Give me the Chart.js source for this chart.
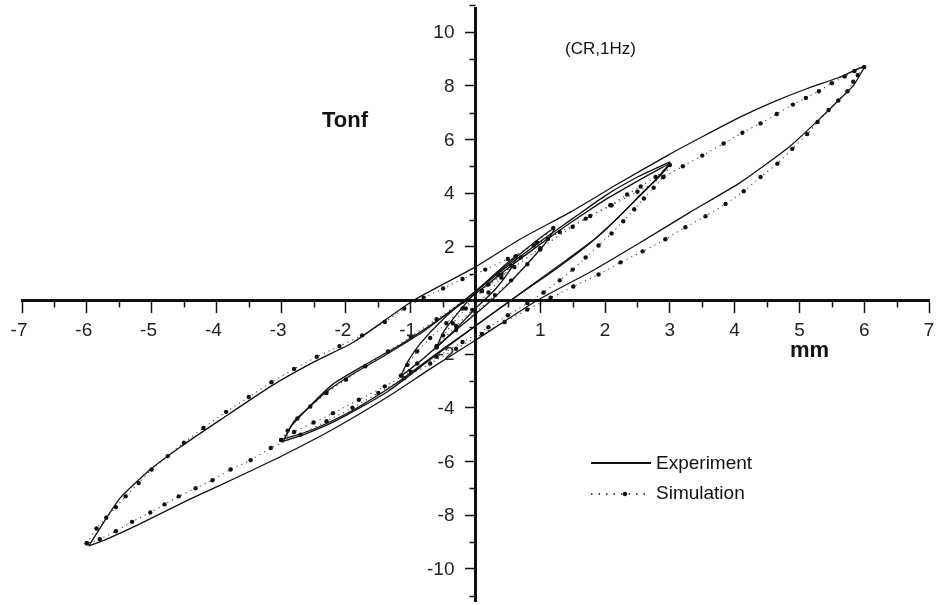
<!DOCTYPE html>
<html>
<head>
<meta charset="utf-8">
<script src="https://cdn.jsdelivr.net/npm/chart.js@4.4.1/dist/chart.umd.min.js"></script>
<style>
  html, body { margin: 0; padding: 0; background: #fff; }
  #wrap { width: 941px; height: 605px; }
</style>
</head>
<body>
<div id="wrap"><canvas id="loops"></canvas></div>
<script>
// DATA ------------------------------------------------------

const xTicks = [-7, -6, -5, -4, -3, -2, -1, 0, 1, 2, 3, 4, 5, 6, 7];
const yTicks = [-10, -8, -6, -4, -2, 0, 2, 4, 6, 8, 10];

// experiment loops, [mm, Tonf]
const expLoop6 = [
  [-5.97, -9.15], [-5.8, -8.5], [-5.48, -7.35], [-5.02, -6.3], [-4.55, -5.45], [-3.94, -4.45],
  [-3.16, -3.2], [-2.5, -2.3], [-1.88, -1.55], [-0.96, 0], [0, 1.25], [0.7, 2.3], [1.47, 3.3],
  [2.2, 4.35], [2.96, 5.4], [3.5, 6.1], [4.09, 6.84], [4.6, 7.4], [5.12, 7.9], [5.6, 8.3], [6.0, 8.72],
  [5.92, 8.35], [5.83, 8.0], [5.6, 7.45], [5.37, 6.9], [4.86, 5.76], [4.09, 4.4], [3.32, 3.3],
  [2.55, 2.17], [1.8, 1.1], [0.95, 0], [0, -1.48], [-0.7, -2.55], [-1.36, -3.6], [-2.2, -4.8],
  [-2.96, -5.76], [-3.67, -6.58], [-4.44, -7.44], [-5.22, -8.37], [-5.7, -8.9], [-5.97, -9.15]
];
const expLoop3 = [
  [-2.97, -5.25], [-2.85, -4.7], [-2.7, -4.3], [-2.44, -3.65], [-2.19, -3.1], [-1.67, -2.35],
  [-1.16, -1.65], [-0.65, -0.85], [0, 0.25], [0.5, 1.2], [1.0, 2.1], [1.5, 2.95], [2.0, 3.75],
  [2.5, 4.45], [2.8, 4.85], [3.0, 5.1],
  [2.85, 4.65], [2.6, 4.05], [2.35, 3.45], [2.05, 2.75], [1.7, 2.0], [1.2, 1.1], [0.6, 0.1],
  [0, -0.95], [-0.7, -2.2], [-1.36, -3.4], [-2.13, -4.45], [-2.6, -4.95], [-2.97, -5.25]
];
const expLoop3b = [
  [-2.95, -5.15], [-2.8, -4.5], [-2.6, -4.05], [-2.3, -3.4], [-1.9, -2.75], [-1.4, -2.05],
  [-0.8, -1.15], [-0.2, -0.05], [0.4, 1.1], [1.0, 2.2], [1.5, 3.05], [2.0, 3.9], [2.5, 4.6],
  [2.85, 5.0], [3.0, 5.15],
  [2.8, 4.55], [2.55, 3.95], [2.25, 3.2], [1.9, 2.4], [1.4, 1.5], [0.8, 0.45], [0.2, -0.6],
  [-0.5, -1.8], [-1.2, -3.05], [-1.9, -4.1], [-2.5, -4.8], [-2.8, -5.05], [-2.95, -5.15]
];
const expLoop1 = [
  [-1.16, -2.85], [-1.05, -2.3], [-0.85, -1.6], [-0.5, -0.7], [0, 0.35], [0.5, 1.35], [0.9, 2.15], [1.22, 2.7],
  [1.1, 2.2], [0.85, 1.5], [0.5, 0.6], [0.15, -0.2], [-0.3, -1.1], [-0.8, -2.15], [-1.16, -2.85]
];
const expLoopHalf = [
  [-0.6, -1.75], [-0.5, -1.2], [-0.25, -0.4], [0, 0.3], [0.35, 1.1], [0.65, 1.7],
  [0.55, 1.2], [0.3, 0.4], [0, -0.3], [-0.3, -1.05], [-0.6, -1.75]
];

// simulation loops, [mm, Tonf]
const simLoop6 = [
  [-6, -9.05], [-5.85, -8.5], [-5.7, -8.1], [-5.55, -7.7], [-5.4, -7.3], [-5.2, -6.8], [-5.0, -6.3],
  [-4.75, -5.8], [-4.5, -5.3], [-4.2, -4.75], [-3.85, -4.15], [-3.5, -3.6], [-3.15, -3.05],
  [-2.8, -2.55], [-2.45, -2.1], [-2.1, -1.7], [-1.75, -1.3], [-1.4, -0.8], [-1.1, -0.3], [-0.8, 0.1],
  [-0.5, 0.45], [-0.2, 0.8], [0.15, 1.15], [0.5, 1.55], [0.9, 2.05], [1.3, 2.55], [1.7, 3.05],
  [2.1, 3.55], [2.5, 4.05], [2.9, 4.6], [3.2, 5.0], [3.5, 5.4], [3.83, 5.85], [4.12, 6.25], [4.4, 6.6],
  [4.65, 6.95], [4.9, 7.3], [5.1, 7.55], [5.3, 7.8], [5.5, 8.1], [5.7, 8.35], [5.85, 8.55], [6, 8.7],
  [5.9, 8.4], [5.83, 8.15], [5.74, 7.8], [5.6, 7.45], [5.45, 7.1], [5.28, 6.65], [5.12, 6.2],
  [4.89, 5.65], [4.66, 5.1], [4.4, 4.6], [4.14, 4.07], [3.86, 3.6], [3.55, 3.14], [3.24, 2.73],
  [2.93, 2.28], [2.58, 1.83], [2.24, 1.42], [1.9, 0.97], [1.51, 0.52], [1.16, 0.1], [0.8, -0.34],
  [0.45, -0.8], [0.1, -1.25], [-0.3, -1.8], [-0.7, -2.35], [-1.1, -2.9], [-1.5, -3.45], [-1.9, -4.0],
  [-2.3, -4.5], [-2.7, -5.0], [-3.16, -5.5], [-3.47, -5.95], [-3.78, -6.3], [-4.06, -6.7],
  [-4.32, -7.0], [-4.58, -7.3], [-4.8, -7.6], [-5.02, -7.9], [-5.3, -8.25], [-5.55, -8.6],
  [-5.8, -8.9], [-6, -9.05]
];
const simLoop3 = [
  [-3.0, -5.2], [-2.9, -4.85], [-2.75, -4.4], [-2.55, -3.95], [-2.3, -3.45], [-2.0, -2.95],
  [-1.7, -2.45], [-1.35, -1.9], [-1.0, -1.35], [-0.6, -0.7], [-0.2, -0.05], [0.2, 0.6], [0.6, 1.25],
  [1.0, 1.95], [1.5, 2.75], [1.77, 3.15], [2.08, 3.55], [2.34, 3.95], [2.55, 4.25], [2.78, 4.6], [3.0, 5.05],
  [2.9, 4.6], [2.75, 4.2], [2.6, 3.8], [2.45, 3.4], [2.28, 2.95], [2.1, 2.5], [1.9, 2.05], [1.7, 1.6],
  [1.5, 1.15], [1.3, 0.75], [1.05, 0.3], [0.8, -0.1], [0.5, -0.55], [0.2, -1.0], [-0.2, -1.55],
  [-0.6, -2.1], [-1.0, -2.65], [-1.4, -3.2], [-1.8, -3.7], [-2.2, -4.2], [-2.5, -4.55], [-2.8, -4.9],
  [-3.0, -5.2]
];
const simLoop1 = [
  [-1.15, -2.8], [-1.05, -2.4], [-0.9, -1.9], [-0.7, -1.4], [-0.45, -0.85], [-0.2, -0.3], [0.1, 0.35],
  [0.4, 0.95], [0.7, 1.6], [0.95, 2.15], [1.2, 2.7],
  [1.12, 2.3], [1.0, 1.9], [0.8, 1.35], [0.55, 0.75], [0.3, 0.2], [0.0, -0.45], [-0.3, -1.1],
  [-0.6, -1.75], [-0.9, -2.35], [-1.15, -2.8]
];
const simLoopHalf = [
  [-0.6, -1.7], [-0.5, -1.3], [-0.35, -0.85], [-0.15, -0.3], [0.1, 0.35], [0.35, 0.95], [0.62, 1.65],
  [0.55, 1.3], [0.4, 0.85], [0.2, 0.3], [-0.05, -0.35], [-0.3, -0.95], [-0.6, -1.7]
];

// CHART ------------------------------------------------------

const toPoints = arr => arr.map(p => ({ x: p[0], y: p[1] }));

const expStyle = {
  showLine: true,
  borderColor: '#111',
  borderWidth: 1.3,
  pointRadius: 0,
  tension: 0.2,
  fill: false
};
const simStyle = {
  showLine: true,
  borderColor: '#444',
  borderWidth: 1.1,
  borderDash: [1.2, 4],
  pointRadius: 2.2,
  pointBackgroundColor: '#111',
  pointBorderColor: '#111',
  pointBorderWidth: 0,
  tension: 0.2,
  fill: false
};

const datasets = [
  Object.assign({ label: 'Experiment', data: toPoints(expLoop6) }, expStyle),
  Object.assign({ label: 'Experiment 3', data: toPoints(expLoop3) }, expStyle),
  Object.assign({ label: 'Experiment 3b', data: toPoints(expLoop3b) }, expStyle),
  Object.assign({ label: 'Experiment 1', data: toPoints(expLoop1) }, expStyle),
  Object.assign({ label: 'Experiment 0.5', data: toPoints(expLoopHalf) }, expStyle),
  Object.assign({ label: 'Simulation', data: toPoints(simLoop6) }, simStyle),
  Object.assign({ label: 'Simulation 3', data: toPoints(simLoop3) }, simStyle),
  Object.assign({ label: 'Simulation 1', data: toPoints(simLoop1) }, simStyle),
  Object.assign({ label: 'Simulation 0.5', data: toPoints(simLoopHalf) }, simStyle)
];

const FONT = '"Liberation Sans", Arial, sans-serif';

// tick labels, minor ticks, axis titles and the little legend
const extras = {
  id: 'extras',
  afterDraw(chart) {
    const ctx = chart.ctx;
    const xs = chart.scales.x, ys = chart.scales.y;
    const yAxisPx = xs.getPixelForValue(0);
    const xAxisPx = ys.getPixelForValue(0);
    ctx.save();
    ctx.strokeStyle = '#111';
    ctx.lineWidth = 1.5;
    ctx.beginPath();
    for (let v = -6.5; v <= 6.5; v += 1) {
      const px = Math.round(xs.getPixelForValue(v)) + 0.5;
      ctx.moveTo(px, xAxisPx);
      ctx.lineTo(px, xAxisPx + 7);
    }
    for (let v = -11; v <= 11; v += 2) {
      const py = Math.round(ys.getPixelForValue(v)) + 0.5;
      ctx.moveTo(yAxisPx, py);
      ctx.lineTo(yAxisPx - 6, py);
    }
    ctx.stroke();

    ctx.fillStyle = '#222';
    ctx.font = '19px ' + FONT;
    ctx.textBaseline = 'middle';
    ctx.textAlign = 'center';
    xTicks.forEach(v => {
      if (v === 0) return;
      ctx.fillText(String(v), xs.getPixelForValue(v) - (v < 0 ? 3 : 0), xAxisPx + 30);
    });
    ctx.textAlign = 'right';
    yTicks.forEach(v => {
      if (v === 0) return;
      ctx.fillText(String(v), yAxisPx - 21, ys.getPixelForValue(v) + 1);
    });

    ctx.fillStyle = '#111';
    ctx.textAlign = 'left';
    ctx.font = 'bold 22px ' + FONT;
    ctx.fillText('Tonf', 322, 121);
    ctx.fillText('mm', 790, 351);
    ctx.font = '17px ' + FONT;
    ctx.fillText('(CR,1Hz)', 565, 49);

    // legend
    ctx.font = '19px ' + FONT;
    ctx.fillText('Experiment', 656, 464);
    ctx.fillText('Simulation', 656, 494);
    ctx.lineWidth = 2;
    ctx.beginPath();
    ctx.moveTo(591, 463);
    ctx.lineTo(651, 463);
    ctx.stroke();
    ctx.lineWidth = 1.3;
    ctx.setLineDash([1.5, 6]);
    ctx.beginPath();
    ctx.moveTo(591, 494);
    ctx.lineTo(651, 494);
    ctx.stroke();
    ctx.setLineDash([]);
    ctx.beginPath();
    ctx.arc(625, 494, 2.2, 0, Math.PI * 2);
    ctx.fill();
    ctx.restore();
  }
};

new Chart(document.getElementById('loops'), {
  type: 'scatter',
  data: { datasets: datasets },
  options: {
    responsive: true,
    maintainAspectRatio: false,
    animation: false,
    layout: { padding: { left: 22, right: 12, top: 8, bottom: 2 } },
    scales: {
      x: {
        type: 'linear',
        position: { y: 0 },
        min: -7,
        max: 7,
        afterBuildTicks: scale => { scale.ticks = xTicks.map(v => ({ value: v })); },
        grid: { drawOnChartArea: false, drawTicks: true, tickLength: 11, tickWidth: 1.5, tickColor: '#111' },
        border: { display: true, color: '#111', width: 3 },
        ticks: { display: false }
      },
      y: {
        type: 'linear',
        position: { x: 0 },
        min: -11.2,
        max: 10.9,
        afterBuildTicks: scale => { scale.ticks = yTicks.map(v => ({ value: v })); },
        grid: { drawOnChartArea: false, drawTicks: true, tickLength: 9, tickWidth: 1.5, tickColor: '#111' },
        border: { display: true, color: '#111', width: 3 },
        ticks: { display: false }
      }
    },
    plugins: {
      legend: { display: false },
      tooltip: { enabled: false }
    }
  },
  plugins: [extras]
});
</script>
</body>
</html>
